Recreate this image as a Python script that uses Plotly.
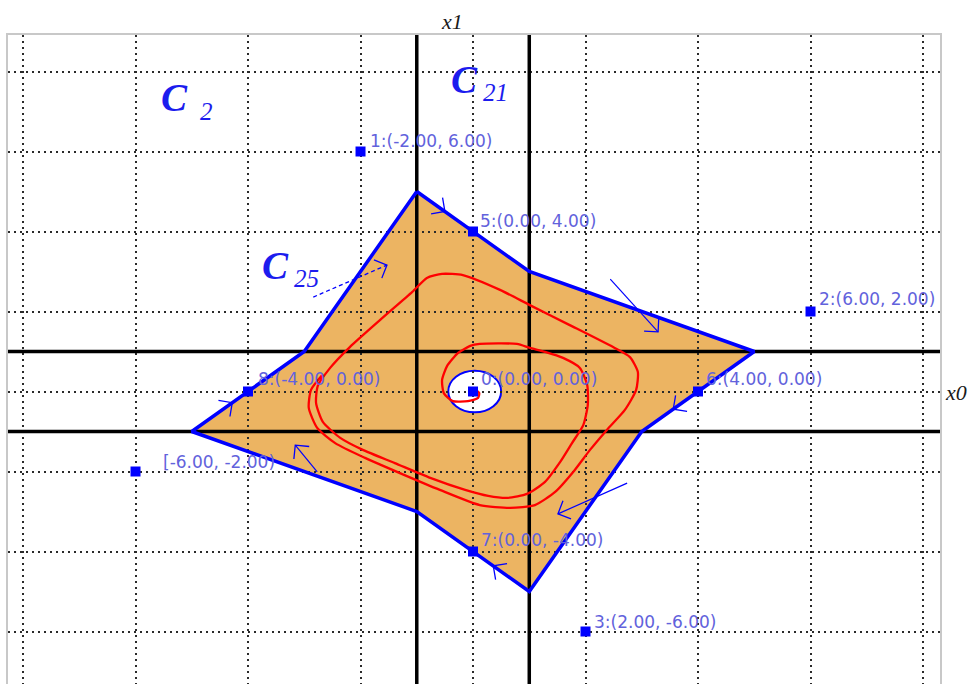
import math
import plotly.graph_objects as go

# ---------------- data ----------------
# boundary of the invariant region (piecewise-linear star), clockwise
region_x = [-1, 1, 5, 3, 1, -1, -5, -3]
region_y = [5, 3, 1, -1, -5, -3, -1, 1]

# labelled points
pt_x = [0, -2, 6, 2, -6, 0, 4, 0, -4]
pt_y = [0, 6, 2, -6, -2, 4, 0, -4, 0]
pt_prefix = ["0:(", "1:(", "2:(", "3:(", "[", "5:(", "6:(", "7:(", "8:("]

# switching lines x0 = +-1, x1 = +-1
switch_x = [-1, 1]
switch_y = [-1, 1]

# excluded neighbourhood of the equilibrium
hole_cx, hole_cy = 0.03, 0.0
hole_rx, hole_ry = 0.47, 0.52

# trajectory spiralling out from the origin
traj_x = [0.05, 0.11, 0.09, -0.09, -0.36, -0.52, -0.55, -0.46, -0.27, -0.05, 0.12, 0.78,
          1.01, 1.28, 1.60, 1.90, 2.03, 2.04, 1.96, 1.76, 1.55, 1.28, 0.96, 0.62, 0.27,
          -0.14, -0.76, -1.39, -1.96, -2.36, -2.67, -2.79, -2.76, -2.54, -2.19, -1.65,
          -1.08, -0.82, -0.55, -0.18, 0.48, 1.01, 1.72, 2.49, 2.79, 2.93, 2.90, 2.70,
          2.38, 2.08, 1.81, 1.46, 1.10, 0.66, 0.12, -0.59, -1.30, -1.92, -2.45, -2.77,
          -2.92, -2.88, -2.68]
traj_y = [0.04, -0.04, -0.16, -0.24, -0.24, -0.04, 0.29, 0.64, 0.96, 1.14, 1.19, 1.19,
          1.09, 0.99, 0.84, 0.59, 0.16, -0.34, -0.84, -1.29, -1.76, -2.26, -2.56, -2.66,
          -2.61, -2.46, -2.16, -1.79, -1.46, -1.16, -0.76, -0.29, 0.14, 0.59, 1.11, 1.79,
          2.49, 2.84, 2.94, 2.91, 2.54, 2.16, 1.66, 1.11, 0.86, 0.49, 0.04, -0.46,
          -0.96, -1.46, -1.96, -2.51, -2.84, -2.91, -2.84, -2.46, -2.04, -1.66, -1.29,
          -0.91, -0.41, 0.04, 0.41]

# flow-direction arrows (tail -> head)
arrow_tail_x = [-0.80, -2.84, 2.44, 3.90, 2.74, 0.70, -2.77, -4.60]
arrow_tail_y = [4.80, 2.36, 2.81, -0.10, -2.29, -4.70, -2.01, -0.60]
arrow_head_x = [-0.50, -1.53, 3.29, 3.56, 1.51, 0.36, -3.16, -4.28]
arrow_head_y = [4.50, 3.16, 1.49, -0.44, -3.06, -4.36, -1.34, -0.28]
arrow_dashed = [False, True, False, False, False, False, False, False]

# region names
region_name = ["2", "21", "25"]
region_name_x = [-5.58, -0.43, -3.78]
region_name_y = [7.36, 7.79, 3.14]

# ---------------- layout constants ----------------
W, H = 975, 684
ML, MR, MT, MB = 8, 35, 35, 0
XR = [-8.267, 8.302]
YR = [-7.3125, 8.9125]
sx = (W - ML - MR) / (XR[1] - XR[0])   # px per unit
sy = (H - MT - MB) / (YR[1] - YR[0])

BLUE = "#0000ff"
ORANGE = "#ecb462"
LABEL_BLUE = "#6262dc"
NAME_BLUE = "#1c1cee"

fig = go.Figure()

# switching lines (thick black)
sw_lx, sw_ly = [], []
for v in switch_x:
    sw_lx += [v, v, None]
    sw_ly += [YR[0], YR[1], None]
for v in switch_y:
    sw_lx += [XR[0], XR[1], None]
    sw_ly += [v, v, None]
fig.add_trace(go.Scatter(x=sw_lx, y=sw_ly, mode="lines",
                         line=dict(color="black", width=3.5), hoverinfo="skip"))

# trajectory
fig.add_trace(go.Scatter(x=traj_x, y=traj_y, mode="lines",
                         line=dict(color="#ff0000", width=2.3, shape="spline", smoothing=0.6),
                         hoverinfo="skip"))

# region boundary
fig.add_trace(go.Scatter(x=region_x + region_x[:1], y=region_y + region_y[:1], mode="lines",
                         line=dict(color=BLUE, width=3.5), hoverinfo="skip"))

# arrows: shafts and open chevron heads
solid_x, solid_y, dash_x, dash_y, head_x, head_y = [], [], [], [], [], []
ARM = 14
for tx, ty, hx, hy, dashed in zip(arrow_tail_x, arrow_tail_y, arrow_head_x, arrow_head_y, arrow_dashed):
    if dashed:
        dash_x += [tx, hx, None]
        dash_y += [ty, hy, None]
    else:
        solid_x += [tx, hx, None]
        solid_y += [ty, hy, None]
    ang = math.atan2((hy - ty) * sy, (hx - tx) * sx)
    arms = []
    for s in (1, -1):
        a = ang + math.pi + s * math.pi / 4
        arms.append((hx + ARM * math.cos(a) / sx, hy + ARM * math.sin(a) / sy))
    head_x += [arms[0][0], hx, arms[1][0], None]
    head_y += [arms[0][1], hy, arms[1][1], None]

fig.add_trace(go.Scatter(x=solid_x, y=solid_y, mode="lines",
                         line=dict(color=BLUE, width=1.2), hoverinfo="skip"))
fig.add_trace(go.Scatter(x=dash_x, y=dash_y, mode="lines",
                         line=dict(color=BLUE, width=1.3, dash="4px,3px"), hoverinfo="skip"))
fig.add_trace(go.Scatter(x=head_x, y=head_y, mode="lines",
                         line=dict(color=BLUE, width=1.3), hoverinfo="skip"))

# labelled points
fig.add_trace(go.Scatter(x=pt_x, y=pt_y, mode="markers",
                         marker=dict(symbol="square", size=10, color=BLUE),
                         hoverinfo="skip"))

# filled region and hole, underneath the grid
path = "M " + " L ".join(f"{x},{y}" for x, y in zip(region_x, region_y)) + " Z"
fig.add_shape(type="path", path=path, xref="x", yref="y",
              fillcolor=ORANGE, line=dict(width=0), layer="below")
fig.add_shape(type="circle", xref="x", yref="y",
              x0=hole_cx - hole_rx, x1=hole_cx + hole_rx,
              y0=hole_cy - hole_ry, y1=hole_cy + hole_ry,
              fillcolor="white", line=dict(color=BLUE, width=2), layer="below")

annotations = []
label_dx = [6, 7, 6, 6, 25, 5, 6, 6, 8]
label_dy = [13, 11, 13, 10, 10, 11, 13, 12, 13]
for i in range(len(pt_x)):
    annotations.append(dict(
        x=pt_x[i], y=pt_y[i], xref="x", yref="y",
        text=f"{pt_prefix[i]}{pt_x[i]:.2f}, {pt_y[i]:.2f})",
        showarrow=False, xanchor="left", yanchor="middle",
        xshift=label_dx[i], yshift=label_dy[i],
        font=dict(family="DejaVu Sans", size=17, color=LABEL_BLUE)))

for name, nx, ny in zip(region_name, region_name_x, region_name_y):
    annotations.append(dict(
        x=nx, y=ny, xref="x", yref="y", text="<b><i>C</i></b>",
        showarrow=False, xanchor="left", yanchor="middle",
        font=dict(family="Liberation Serif", size=39, color=NAME_BLUE)))
    annotations.append(dict(
        x=nx, y=ny, xref="x", yref="y", text=f"<i>{name}</i>",
        showarrow=False, xanchor="left", yanchor="middle",
        xshift=39 if len(name) == 1 else 32, yshift=-14 if len(name) == 1 else -13,
        font=dict(family="Liberation Serif", size=25, color=NAME_BLUE)))

# axis names
annotations.append(dict(x=0, y=1, xref="x", yref="paper", text="<i>x1</i>",
                        showarrow=False, xanchor="center", yanchor="bottom",
                        xshift=-21, yshift=-1,
                        font=dict(family="Liberation Serif", size=22, color="#1a1a1a")))
annotations.append(dict(x=1, y=0, xref="paper", yref="y", text="<i>x0</i>",
                        showarrow=False, xanchor="left", yanchor="middle",
                        xshift=3, yshift=-1,
                        font=dict(family="Liberation Serif", size=22, color="#1a1a1a")))

axis_common = dict(showticklabels=False, ticks="", zeroline=False,
                   showgrid=True, gridcolor="#2a2a2a", gridwidth=2, griddash="2px,4px",
                   dtick=2, tick0=0, showline=True, mirror=True,
                   linecolor="#c8c8c8", linewidth=2, fixedrange=True)

fig.update_layout(
    width=W, height=H,
    margin=dict(l=ML, r=MR, t=MT, b=MB),
    paper_bgcolor="white", plot_bgcolor="white",
    showlegend=False, hovermode=False,
    xaxis=dict(range=XR, **axis_common),
    yaxis=dict(range=YR, **axis_common),
    annotations=annotations,
)

fig.write_html("out.html")
